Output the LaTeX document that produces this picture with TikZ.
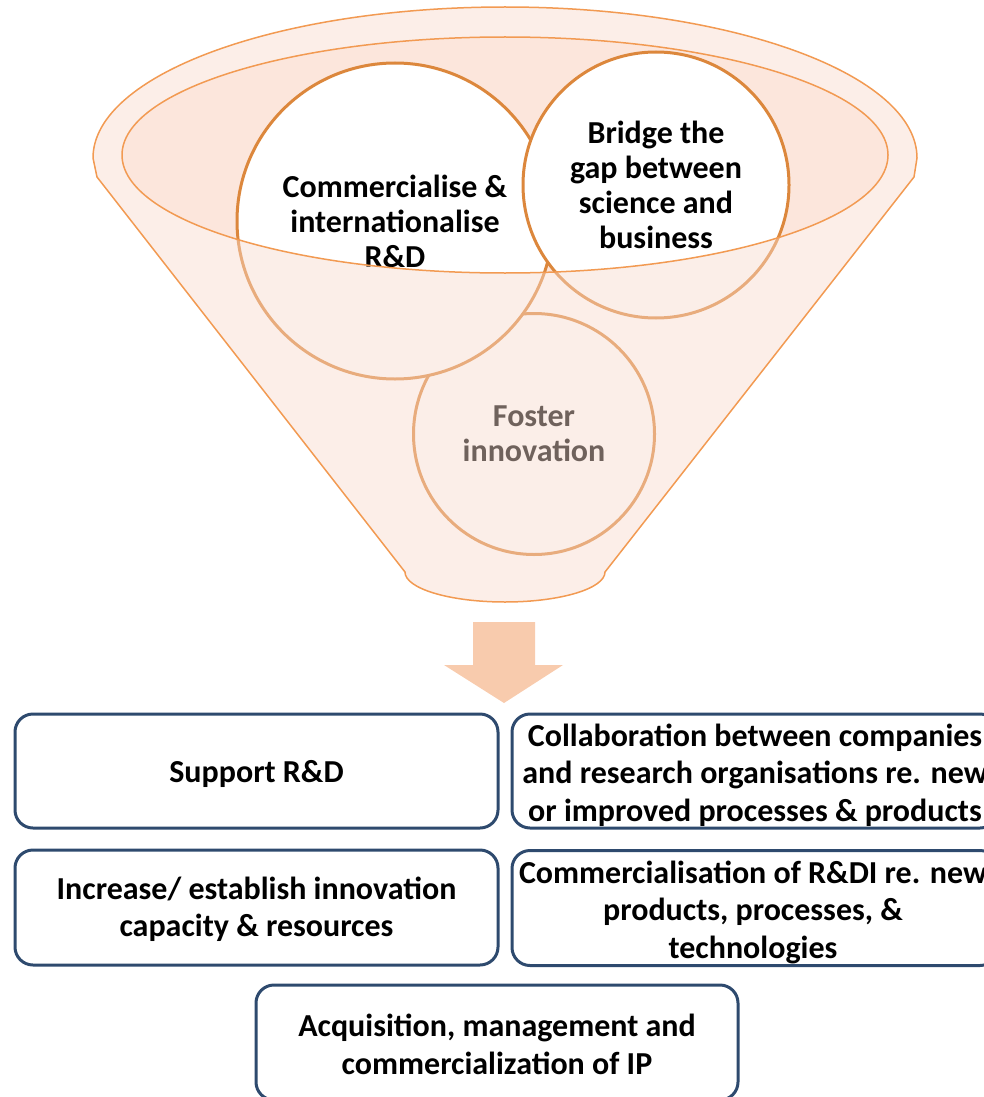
\documentclass[tikz,border=0pt]{standalone}
\usepackage{fontspec}
\setmainfont{Carlito}
\definecolor{funline}{HTML}{F29A52}
\definecolor{opening}{HTML}{FCE6DC}
\definecolor{veil}{HTML}{F8DACD}
\definecolor{circline}{HTML}{DC873C}
\definecolor{arrowfill}{HTML}{F8CBAD}
\definecolor{boxline}{HTML}{2E4A6E}
\begin{document}
\begin{tikzpicture}[x=1pt,y=1pt,
  circ/.style={circle,draw=circline,line width=3pt,fill=white,inner sep=0pt,align=center,
    font=\fontsize{32}{35}\selectfont\bfseries},
  goalbox/.style={rectangle,rounded corners=18pt,draw=boxline,line width=3pt,fill=white,inner sep=0pt},
  boxtext/.style={align=center,inner sep=0pt,font=\fontsize{32}{37.5}\selectfont\bfseries}]
\useasboundingbox (0,0) rectangle (984,-1097);
\clip (0,0) rectangle (984,-1097);
% funnel opening
\fill[opening] (505,-155) ellipse [x radius=383,y radius=118];
% circles
\node[circ,minimum size=241pt] (fos) at (534,-434) {Foster\\innovation};
\node[circ,minimum size=316pt] (com) at (395,-221) {Commercialise \&\\internationalise\\R\&D};
\node[circ,minimum size=266pt] (bri) at (656,-185) {Bridge the\\gap between\\science and\\business};
% translucent funnel front
\fill[veil,opacity=0.45,even odd rule]
  (97,-177) -- (405,-572) arc[start angle=180,end angle=360,x radius=100,y radius=30]
  -- (914,-177) -- (917,-158) arc[start angle=0,end angle=180,x radius=412,y radius=151] -- cycle
  (505,-155) ellipse [x radius=383,y radius=118];
% funnel outlines
\draw[funline,line width=1.5pt,line join=round]
  (97,-177) -- (405,-572) arc[start angle=180,end angle=360,x radius=100,y radius=30]
  -- (914,-177) -- (917,-158) arc[start angle=0,end angle=180,x radius=412,y radius=151] -- cycle;
\draw[funline,line width=1.5pt] (505,-155) ellipse [x radius=383,y radius=118];
% block arrow
\fill[arrowfill] (473,-622) -- (535,-622) -- (535,-665) -- (563,-665) -- (504,-703)
  -- (444,-665) -- (473,-665) -- cycle;
% boxes
\node[goalbox,minimum width=483pt,minimum height=114pt] (b1) at (256.5,-771) {};
\node[goalbox,minimum width=486pt,minimum height=114pt] (b2) at (755,-771) {};
\node[goalbox,minimum width=483pt,minimum height=115pt] (b3) at (256.5,-907.5) {};
\node[goalbox,minimum width=486pt,minimum height=115pt] (b4) at (755,-908) {};
\node[goalbox,minimum width=482pt,minimum height=115pt] (b5) at (497,-1042.5) {};
\node[boxtext] (t1) at ([yshift=-3pt]b1.center) {Support R\&D};
\node[boxtext] (t2) at ([yshift=-4pt]b2.center)
  {Collaboration between companies\\and research organisations re. new\\or improved processes \& products};
\node[boxtext] (t3) at ([yshift=-2pt]b3.center) {Increase/ establish innovation\\capacity \& resources};
\node[boxtext] (t4) at ([xshift=-2pt,yshift=-4pt]b4.center)
  {Commercialisation of R\&DI re. new\\products, processes, \&\\technologies};
\node[boxtext] (t5) at ([yshift=-2pt]b5.center) {Acquisition, management and\\commercialization of IP};
\end{tikzpicture}
\end{document}
